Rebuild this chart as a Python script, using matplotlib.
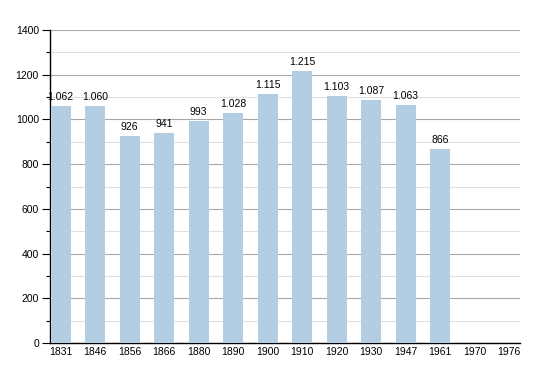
import matplotlib
matplotlib.use("Agg")
import matplotlib.pyplot as plt
from matplotlib.ticker import MultipleLocator

years = ["1831", "1846", "1856", "1866", "1880", "1890", "1900",
         "1910", "1920", "1930", "1947", "1961", "1970", "1976"]
population = [1062, 1060, 926, 941, 993, 1028, 1115,
              1215, 1103, 1087, 1063, 866, None, None]

plt.rcParams['font.family'] = ['Liberation Sans', 'DejaVu Sans']

fig = plt.figure(figsize=(5.5, 3.73), dpi=100)
ax = fig.add_axes([50 / 550, 1 - 343 / 373, 470 / 550, 313 / 373])

xs = list(range(len(years)))
for x, v in zip(xs, population):
    if v is None:
        continue
    ax.bar(x, v, width=0.58, color="#b3cde3", zorder=3)
    # thousands separator is a dot in the original
    label = f"{v:,}".replace(",", ".")
    ax.text(x, v + 18, label, ha="center", va="bottom", fontsize=7.5, zorder=4)

ax.set_xlim(-0.31, 13.32)
ax.set_ylim(0, 1400)
ax.set_xticks(xs)
ax.set_xticklabels(years)
ax.yaxis.set_major_locator(MultipleLocator(200))
ax.yaxis.set_minor_locator(MultipleLocator(100))

ax.grid(axis="y", which="major", color="#a8a8a8", linewidth=0.8, zorder=0)
ax.grid(axis="y", which="minor", color="#e0e0e0", linewidth=0.8, zorder=0)

ax.spines["top"].set_visible(False)
ax.spines["right"].set_visible(False)
ax.spines["left"].set_linewidth(1.0)
ax.spines["bottom"].set_linewidth(1.0)

ax.tick_params(axis="y", which="major", length=6, width=0.8, labelsize=7.5, pad=2)
ax.tick_params(axis="y", which="minor", length=3, width=0.8)
ax.tick_params(axis="x", length=0, labelsize=7.5, pad=3)

fig.savefig("out.png", dpi=100)
